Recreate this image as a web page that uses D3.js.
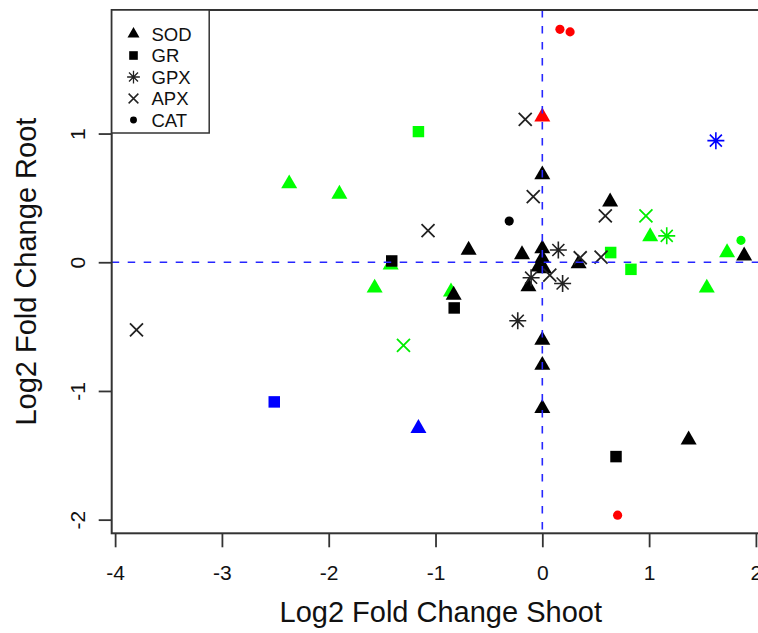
<!DOCTYPE html>
<html>
<head>
<meta charset="utf-8">
<script src="https://cdn.jsdelivr.net/npm/d3@7/dist/d3.min.js"></script>
<style>
  html, body { margin: 0; padding: 0; background: #fff; }
  svg { display: block; font-family: "Liberation Sans", Arial, Helvetica, sans-serif; }
</style>
</head>
<body>
<svg id="chart" width="758" height="633"></svg>
<script>
// ---------------- data ----------------
const enzymes = ["SOD", "GR", "GPX", "APX", "CAT"];
const xTicks = [-4, -3, -2, -1, 0, 1, 2];
const yTicks = [-2, -1, 0, 1];
const xTitle = "Log2 Fold Change Shoot";
const yTitle = "Log2 Fold Change Root";

// [enzyme, log2 FC shoot, log2 FC root]
const greenPoints = [
  ["SOD", -2.37, 0.61], ["SOD", -1.90, 0.53], ["SOD", -1.57, -0.20], ["SOD", -1.42, -0.02],
  ["SOD", -0.855, -0.23], ["SOD", 1.01, 0.20], ["SOD", 1.73, 0.075], ["SOD", 1.54, -0.20],
  ["GR", -1.16, 1.015], ["GR", 0.64, 0.075], ["GR", 0.83, -0.055],
  ["GPX", 1.165, 0.205],
  ["APX", -1.30, -0.645], ["APX", 0.97, 0.36],
  ["CAT", 1.86, 0.17]
];
const blackPoints = [
  ["SOD", 0.0, 0.68], ["SOD", 0.635, 0.47], ["SOD", -0.69, 0.095], ["SOD", -0.19, 0.06],
  ["SOD", 0.0, 0.105], ["SOD", 0.0, 0.03], ["SOD", -0.035, -0.035], ["SOD", 0.015, -0.05],
  ["SOD", 0.34, -0.01], ["SOD", 1.89, 0.05], ["SOD", -0.13, -0.19], ["SOD", -0.83, -0.255],
  ["SOD", 0.0, -0.605], ["SOD", 0.0, -0.80], ["SOD", 0.0, -1.135], ["SOD", 1.37, -1.38],
  ["GR", -1.41, 0.01], ["GR", -0.825, -0.355], ["GR", 0.69, -1.51],
  ["GPX", 0.15, 0.095], ["GPX", -0.105, -0.12], ["GPX", 0.19, -0.165], ["GPX", -0.23, -0.455],
  ["APX", -3.80, -0.525], ["APX", -1.07, 0.245], ["APX", -0.16, 1.11], ["APX", -0.085, 0.51],
  ["APX", 0.59, 0.36], ["APX", 0.355, 0.035], ["APX", 0.55, 0.04], ["APX", 0.07, -0.10],
  ["CAT", -0.31, 0.32]
];
const bluePoints = [["SOD", -1.16, -1.29], ["GR", -2.51, -1.085], ["GPX", 1.625, 0.945]];
const redPoints = [["SOD", 0.0, 1.13], ["CAT", 0.165, 1.81], ["CAT", 0.26, 1.79], ["CAT", 0.705, -1.965]];

const xLimits = [-4.032, 2.13];
const yLimits = [-2.106, 1.96];

// ---------------- layout ----------------
const svg = d3.select("#chart");
const plot = { left: 111.7, top: 10, bottom: 533.3 };
plot.right = plot.left + (xLimits[1] - xLimits[0]) * 106.8;

const x = d3.scaleLinear().domain(xLimits).range([plot.left, plot.right]);
const y = d3.scaleLinear().domain(yLimits).range([plot.bottom, plot.top]);

const axisColor = "#333";

// ---------------- symbol types (R pch) ----------------
const symCross = { draw(ctx, size) { const r = Math.sqrt(size) / 2;
  ctx.moveTo(-r, -r); ctx.lineTo(r, r); ctx.moveTo(-r, r); ctx.lineTo(r, -r); } };
const symAsterisk = { draw(ctx, size) { const r = Math.sqrt(size) / 2, d = r / Math.SQRT2;
  ctx.moveTo(-r, 0); ctx.lineTo(r, 0); ctx.moveTo(0, -r); ctx.lineTo(0, r);
  ctx.moveTo(-d, -d); ctx.lineTo(d, d); ctx.moveTo(-d, d); ctx.lineTo(d, -d); } };

const shapeStyle = {
  SOD: { type: d3.symbolTriangle, size: 111, filled: true },
  GR:  { type: d3.symbolSquare,   size: 132, filled: true },
  GPX: { type: symAsterisk,       size: 289, filled: false, sw: 1.6 },
  APX: { type: symCross,          size: 169, filled: false, sw: 1.8 },
  CAT: { type: d3.symbolCircle,   size: 66,  filled: true }
};

function drawMark(g, enzyme, cx, cy, color, scale) {
  const st = shapeStyle[enzyme];
  const p = d3.symbol().type(st.type).size(st.size * scale * scale)();
  const el = g.append("path").attr("d", p).attr("transform", `translate(${cx},${cy})`);
  if (st.filled) el.attr("fill", color).attr("stroke", "none");
  else el.attr("fill", "none").attr("stroke", color).attr("stroke-width", st.sw * Math.max(scale, 0.8)).attr("stroke-linecap", "butt");
}

// clip for plot area
svg.append("defs").append("clipPath").attr("id", "clip")
  .append("rect").attr("x", plot.left).attr("y", plot.top)
  .attr("width", plot.right - plot.left).attr("height", plot.bottom - plot.top);

// ---------------- points ----------------
const gPts = svg.append("g").attr("clip-path", "url(#clip)");
const seriesList = [
  { data: greenPoints, color: "#00ff00", line: "#00ee00" },
  { data: blackPoints, color: "#000000", line: "#222222" },
  { data: bluePoints,  color: "#0000ff", line: "#0000ff" },
  { data: redPoints,   color: "#ff0000", line: "#ff0000" }
];
seriesList.forEach(s => {
  s.data.forEach(([e, vx, vy]) => {
    const st = shapeStyle[e];
    drawMark(gPts, e, x(vx), y(vy), st.filled ? s.color : s.line, 1);
  });
});

// ---------------- reference lines ----------------
const gRef = svg.append("g").attr("clip-path", "url(#clip)");
gRef.append("line")
  .attr("x1", x(0)).attr("x2", x(0)).attr("y1", y(yLimits[1])).attr("y2", y(yLimits[0]))
  .attr("stroke", "#2626ff").attr("stroke-width", 1.6).attr("stroke-dasharray", "7.5,8.5");
gRef.append("line")
  .attr("x1", x(xLimits[0])).attr("x2", x(xLimits[1])).attr("y1", y(0)).attr("y2", y(0))
  .attr("stroke", "#2626ff").attr("stroke-width", 1.6).attr("stroke-dasharray", "7.5,8.5");

// ---------------- box ----------------
svg.append("rect")
  .attr("x", plot.left).attr("y", plot.top)
  .attr("width", plot.right - plot.left).attr("height", plot.bottom - plot.top)
  .attr("fill", "none").attr("stroke", axisColor).attr("stroke-width", 2);

// ---------------- axes ----------------
const xAxis = svg.append("g").attr("transform", `translate(0,${plot.bottom})`)
  .call(d3.axisBottom(x).tickValues(xTicks).tickSize(14).tickFormat(d => String(d)));
xAxis.select(".domain").remove();
xAxis.selectAll(".tick line").attr("stroke", axisColor).attr("stroke-width", 1.8);
xAxis.selectAll(".tick text")
  .attr("y", 39.4).attr("dy", "0.36em")
  .attr("font-size", 21).attr("fill", "#111")
  .attr("font-family", "'Liberation Sans', Arial, sans-serif");

const yAxis = svg.append("g").attr("transform", `translate(${plot.left},0)`)
  .call(d3.axisLeft(y).tickValues(yTicks).tickSize(13).tickFormat(d => String(d)));
yAxis.select(".domain").remove();
yAxis.selectAll(".tick line").attr("stroke", axisColor).attr("stroke-width", 1.8);
yAxis.selectAll(".tick text")
  .attr("x", 0).attr("y", 0).attr("dy", "0.36em")
  .attr("transform", "translate(-34.4,0) rotate(-90)")
  .attr("text-anchor", "middle")
  .attr("font-size", 21).attr("fill", "#111")
  .attr("font-family", "'Liberation Sans', Arial, sans-serif");

// ---------------- titles ----------------
svg.append("text")
  .attr("x", (plot.left + plot.right) / 2).attr("y", 621.5)
  .attr("text-anchor", "middle").attr("font-size", 29).attr("fill", "#111")
  .text(xTitle);
svg.append("text")
  .attr("transform", `translate(35.5,${(plot.top + plot.bottom) / 2}) rotate(-90)`)
  .attr("text-anchor", "middle").attr("font-size", 29).attr("fill", "#111")
  .text(yTitle);

// ---------------- legend ----------------
const leg = svg.append("g");
leg.append("rect")
  .attr("x", plot.left).attr("y", plot.top)
  .attr("width", 97.5).attr("height", 123)
  .attr("fill", "#fff").attr("stroke", axisColor).attr("stroke-width", 1.5);
const rowY = d3.scalePoint().domain(enzymes).range([34, 120]);
enzymes.forEach(e => {
  const st = shapeStyle[e];
  drawMark(leg, e, 133.5, rowY(e), st.filled ? "#000" : "#222", 0.75);
  leg.append("text")
    .attr("x", 151.5).attr("y", rowY(e)).attr("dy", "0.36em")
    .attr("font-size", 18.5).attr("fill", "#111")
    .text(e);
});
</script>
</body>
</html>
